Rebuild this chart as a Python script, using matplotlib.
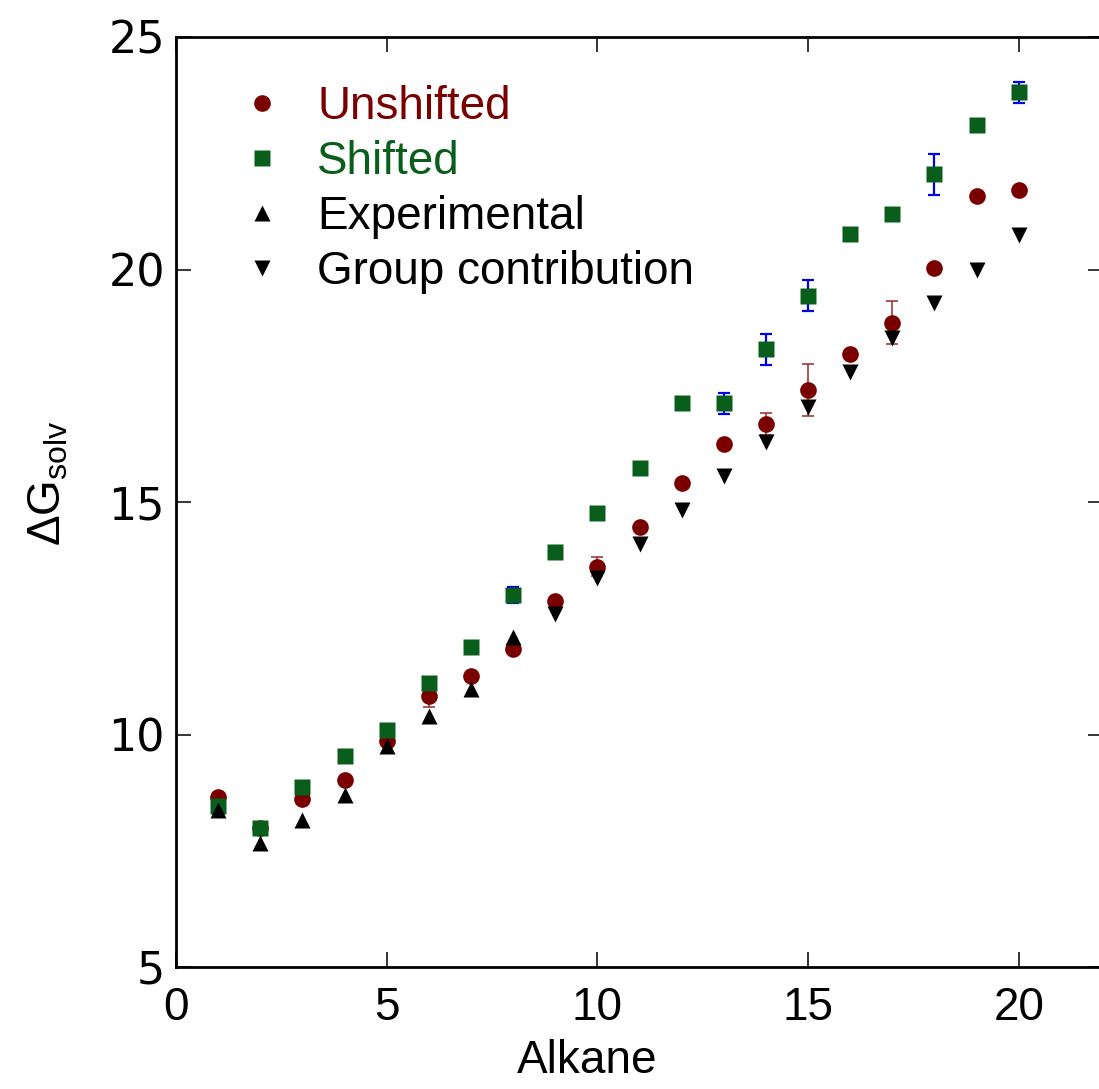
import numpy as np
import matplotlib
matplotlib.use("Agg")
import matplotlib.pyplot as plt

plt.rcParams["font.family"] = ["Liberation Sans", "DejaVu Sans"]
plt.rcParams["mathtext.fontset"] = "custom"
plt.rcParams["mathtext.rm"] = "Liberation Sans"
plt.rcParams["mathtext.it"] = "Liberation Sans"

# alkane chain length
alkane = np.arange(1, 21)

unshifted = [8.65, 7.98, 8.62, 9.02, 9.85, 10.83, 11.26, 11.83, 12.87, 13.61,
             14.47, 15.41, 16.25, 16.68, 17.41, 18.18, 18.86, 20.04, 21.57, 21.71]
unshifted_err = [0, 0, 0, 0, 0, 0.23, 0, 0, 0, 0.21,
                 0, 0, 0, 0.23, 0.55, 0, 0.46, 0, 0, 0]

shifted = [8.47, 7.99, 8.88, 9.54, 10.10, 11.11, 11.89, 13.00, 13.93, 14.76,
           15.73, 17.12, 17.12, 18.28, 19.44, 20.76, 21.19, 22.05, 23.11, 23.81]
shifted_err = [0, 0, 0, 0, 0, 0, 0, 0.18, 0, 0,
               0, 0, 0.23, 0.33, 0.33, 0, 0, 0.44, 0, 0.23]

exp_x = np.arange(1, 9)
experimental = [8.38, 7.66, 8.17, 8.70, 9.75, 10.40, 10.97, 12.10]

group_x = np.arange(9, 21)
group = [12.60, 13.37, 14.09, 14.83, 15.55, 16.30, 17.04, 17.79, 18.53, 19.27, 20.00, 20.75]

RED = "#7a0000"
RED_BAR = "#9a2a2a"
GREEN = "#0a5e1c"
BLUE = "#0000ee"

fig = plt.figure(figsize=(10.99, 10.89), dpi=100)
ax = fig.add_axes([176 / 1099, 1 - 967 / 1089, 927 / 1099, 930 / 1089])

# error bars only where there is an error
u = np.array(unshifted); ue = np.array(unshifted_err)
s = np.array(shifted); se = np.array(shifted_err)
m = ue > 0
ax.errorbar(alkane[m], u[m], yerr=ue[m], fmt="none", ecolor=RED_BAR,
            elinewidth=1.1, capsize=4.5, capthick=1.1, zorder=1)
m = se > 0
ax.errorbar(alkane[m], s[m], yerr=se[m], fmt="none", ecolor=BLUE,
            elinewidth=1.6, capsize=4.5, capthick=1.6, zorder=1)

ms = 12
ax.plot(alkane, unshifted, "o", color=RED, ms=ms, mec="none", label="Unshifted", zorder=2)
ax.plot(alkane, shifted, "s", color=GREEN, ms=ms, mec="none", label="Shifted", zorder=3)
ax.plot(exp_x, experimental, "^", color="black", ms=ms, mec="none", label="Experimental", zorder=4)
ax.plot(group_x, group, "v", color="black", ms=ms, mec="none", label="Group contribution", zorder=4)

ax.set_xlim(0, 22)
ax.set_ylim(5, 25)
ax.set_xticks([0, 5, 10, 15, 20])
ax.set_yticks([5, 10, 15, 20, 25])

for sp in ax.spines.values():
    sp.set_linewidth(2.0)

ax.tick_params(direction="in", top=True, right=True, length=11, width=1.1)
ax.tick_params(axis="x", labelsize=33, pad=14)
ax.tick_params(axis="y", labelsize=32, pad=8)
for lab in ax.get_yticklabels():
    lab.set_fontfamily("DejaVu Sans")

ax.set_xlabel("Alkane", fontsize=33, va="center")
ax.xaxis.set_label_coords(0.444, -0.101)
ax.set_ylabel(r"$\Delta$G$_{\mathrm{solv}}$", fontsize=33, va="center")
ax.yaxis.set_label_coords(-0.138, 0.52)

leg = ax.legend(loc="upper left", bbox_to_anchor=(0.073, 0.948), frameon=False,
                fontsize=33, handlelength=0.8, handletextpad=0.8,
                labelspacing=0.24, borderaxespad=0, borderpad=0,
                numpoints=1, markerscale=1.0)
for txt, col in zip(leg.get_texts(), [RED, GREEN, "black", "black"]):
    txt.set_color(col)

fig.savefig("out.png", dpi=100)
